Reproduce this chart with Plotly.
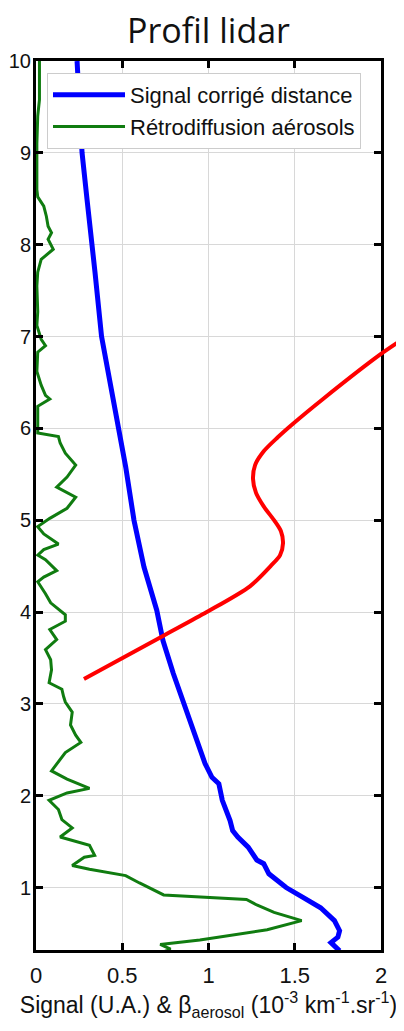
import plotly.graph_objects as go

# ---- data ----
blue_x = [1.76, 1.74, 1.71, 1.75, 1.76, 1.73, 1.65, 1.55, 1.45, 1.35, 1.32, 1.28, 1.23, 1.17, 1.14, 1.125,
          1.08, 1.06, 1.02, 0.98, 0.91, 0.85, 0.84, 0.796, 0.736, 0.70, 0.626, 0.568, 0.52, 0.477,
          0.45, 0.43, 0.38, 0.342, 0.324, 0.296, 0.267, 0.238]
blue_y = [0.31, 0.34, 0.40, 0.46, 0.53, 0.64, 0.78, 0.89, 1.00, 1.15, 1.26, 1.30, 1.44, 1.55, 1.62, 1.73,
          1.95, 2.13, 2.20, 2.35, 2.71, 3.04, 3.07, 3.33, 3.69, 4.02, 4.49, 5.00, 5.58, 6.00,
          6.31, 6.49, 7.00, 7.70, 8.06, 8.49, 9.00, 10.0]

green_x = [0.74, 0.78, 0.72, 0.95, 1.34, 1.54, 1.38, 1.28, 1.22, 0.74, 0.60, 0.52, 0.31, 0.21, 0.28,
           0.34, 0.31, 0.14, 0.21, 0.15, 0.13, 0.076, 0.18, 0.31, 0.18, 0.09, 0.17, 0.26, 0.23, 0.20,
           0.21, 0.17, 0.16, 0.15, 0.076, 0.09, 0.085, 0.055, 0.12, 0.08, 0.17, 0.17, 0.085, 0.055,
           0.01, 0.045, 0.12, 0.055, 0.01, 0.045, 0.13, 0.045, 0.01, 0.08, 0.18, 0.23, 0.12, 0.18,
           0.23, 0.17, 0.14, 0.13, 0.01, 0.01, 0.01, 0.08, 0.055, 0.03, 0.005, 0.01, 0.055, 0.03,
           0.005, 0.01, 0.005, 0.01, 0.03, 0.10, 0.07, 0.09, 0.07, 0.06, 0.045, 0.01, 0.005, 0.005,
           0.01, 0.02, 0.02]
green_y = [0.30, 0.33, 0.38, 0.43, 0.54, 0.64, 0.73, 0.81, 0.87, 0.92, 1.05, 1.13, 1.20, 1.24, 1.33,
           1.35, 1.46, 1.55, 1.65, 1.74, 1.85, 1.95, 2.03, 2.08, 2.18, 2.27, 2.47, 2.58, 2.66, 2.77,
           2.91, 3.02, 3.08, 3.16, 3.23, 3.37, 3.48, 3.59, 3.70, 3.81, 3.90, 3.97, 4.10, 4.20,
           4.33, 4.38, 4.45, 4.57, 4.62, 4.68, 4.74, 4.85, 4.93, 5.02, 5.13, 5.25, 5.36, 5.47,
           5.60, 5.73, 5.84, 5.91, 5.95, 6.02, 6.24, 6.32, 6.36, 6.47, 6.62, 6.83, 6.90, 6.97,
           7.12, 7.27, 7.55, 7.70, 7.84, 7.95, 8.06, 8.13, 8.20, 8.31, 8.42, 8.52, 8.60, 9.10,
           9.40, 9.58, 10.0]

red_x = [0.278, 0.736, 0.99, 1.24, 1.36, 1.415, 1.432, 1.42, 1.38, 1.32, 1.275, 1.258, 1.27, 1.32,
         1.40, 1.49, 1.664, 2.0, 2.15]
red_y = [3.27, 3.74, 4.00, 4.28, 4.50, 4.62, 4.75, 4.88, 5.00, 5.15, 5.30, 5.45, 5.60, 5.75,
         5.90, 6.05, 6.32, 6.81, 7.00]

x_ticks = [0, 0.5, 1, 1.5, 2]
x_ticklabels = ["0", "0.5", "1", "1.5", "2"]
y_ticks = [1, 2, 3, 4, 5, 6, 7, 8, 9, 10]

X_RANGE = [0, 2]
Y_RANGE = [0.32, 10]

# ---- layout geometry (page has an 8px body margin) ----
OFF = 8
W, H = 404 - OFF, 1031 - OFF
ML, MR, MT, MB = 36 - OFF, 0, 61 - OFF, 81
plot_right_px = 381 - OFF
dom_end = (plot_right_px - ML) / (W - ML - MR)
plot_w = W - ML - MR
plot_h = H - MT - MB

fig = go.Figure()
fig.add_trace(go.Scatter(x=blue_x, y=blue_y, mode="lines", name="Signal corrigé distance",
                         line=dict(color="#0000ff", width=5)))
fig.add_trace(go.Scatter(x=green_x, y=green_y, mode="lines", name="Rétrodiffusion aérosols",
                         line=dict(color="#107c10", width=3)))
fig.add_trace(go.Scatter(x=red_x, y=red_y, mode="lines", showlegend=False,
                         line=dict(color="#ff0000", width=4, shape="spline", smoothing=0.8),
                         xaxis="x2", yaxis="y2"))

xtick_font = dict(family="Liberation Sans, Arial", size=22, color="#111")
ytick_font = dict(family="Liberation Sans, Arial", size=20, color="#111")
fig.update_layout(
    template="none",
    width=W, height=H,
    margin=dict(l=ML, r=MR, t=MT, b=MB, pad=0),
    paper_bgcolor="white", plot_bgcolor="rgba(0,0,0,0)",
    title=dict(text="Profil lidar", x=(ML + plot_right_px) / 2 / W, xanchor="center",
               xref="container", y=1 - (31 - OFF) / H, yanchor="middle",
               font=dict(family="Open Sans, Lato", size=34, color="#111")),
    xaxis=dict(domain=[0, dom_end], range=X_RANGE, tickvals=x_ticks, ticktext=x_ticklabels,
               showgrid=True, gridcolor="#d8d8d8", gridwidth=1, zeroline=False, automargin=False,
               showline=True, linecolor="black", linewidth=3, mirror="ticks",
               ticks="inside", ticklen=7, tickwidth=3, tickcolor="black",
               tickfont=xtick_font, ticklabelstandoff=4,
               title=dict(text="Signal (U.A.) &amp; β<sub>aerosol</sub> (10<sup>-3</sup> km<sup>-1</sup>.sr<sup>-1</sup>)",
                          font=dict(family="Liberation Sans, Arial", size=23, color="#111"), standoff=10)),
    yaxis=dict(range=Y_RANGE, tickvals=y_ticks, showgrid=True, gridcolor="#d8d8d8", gridwidth=1,
               zeroline=False, automargin=False, showline=True, linecolor="black", linewidth=3,
               mirror="ticks", ticks="inside", ticklen=7, tickwidth=3, tickcolor="black",
               tickfont=ytick_font, ticklabelstandoff=-2),
    xaxis2=dict(domain=[0, 1], range=[0, X_RANGE[1] / dom_end], anchor="y2", visible=False),
    yaxis2=dict(domain=[0, 1], range=Y_RANGE, anchor="x2", visible=False),
    legend=dict(x=(47 - 36) / plot_w, y=1 - (73 - 61) / plot_h, xanchor="left", yanchor="top",
                bgcolor="white", bordercolor="#cccccc", borderwidth=1,
                font=dict(family="Liberation Sans, Arial", size=22, color="#111"),
                itemwidth=72, tracegroupgap=0),
)

fig.write_html("out.html")
